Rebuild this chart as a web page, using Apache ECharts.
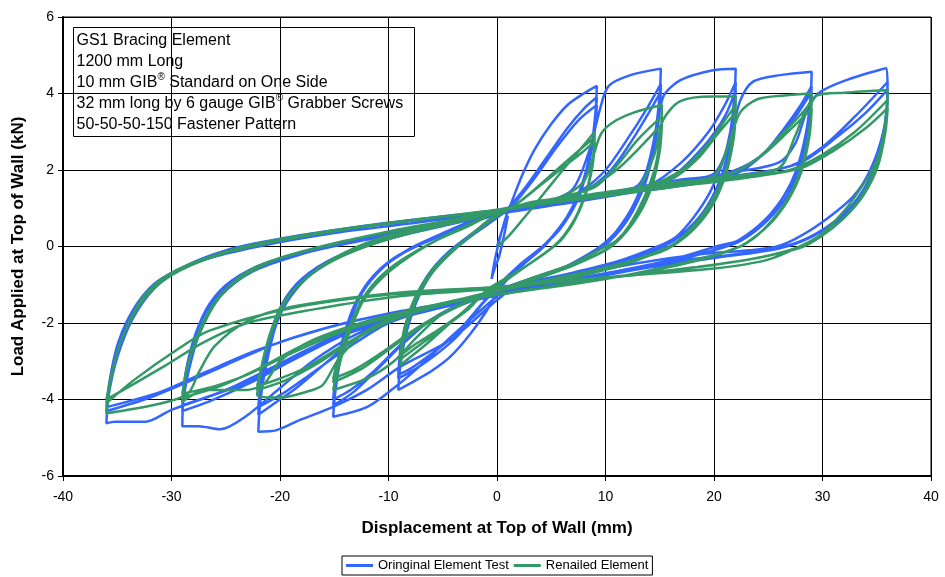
<!DOCTYPE html>
<html>
<head>
<meta charset="utf-8">
<script src="https://cdn.jsdelivr.net/npm/echarts@6/dist/echarts.min.js"></script>
<style>
  html, body { margin: 0; padding: 0; background: #fff; }
  #chart { width: 945px; height: 577px; }
</style>
</head>
<body>
<div id="chart"></div>
<script>
// Hysteresis record: displacement (mm) vs load (kN), cycles at +/-9, 15, 22, 29, 36 mm.
const xTicks = [-40, -30, -20, -10, 0, 10, 20, 30, 40];
const yTicks = [-6, -4, -2, 0, 2, 4, 6];

const seriesNames = ['Oringinal Element Test', 'Renailed Element'];

// Original element test
const origStart = [[0,0],[0.5,0.45],[1.0,0.8],[0.7,0.35],[0.2,-0.25],[-0.3,-0.65],[-0.5,-0.85],[-0.2,-0.35],[0.3,0.25]];
const orig09 = [
  [0.8,0.75],[1.4,1.2],[2.3,1.85],[3.5,2.55],[5,3.2],[6.5,3.7],[8,4.0],[9.2,4.2],
  [9.1,3.6],[8.7,2.6],[7.8,1.6],[6.5,0.8],[5.2,0.3],[4.2,0],[2.5,-0.45],[1,-0.85],[0,-1.2],[-1,-1.7],[-2.5,-2.3],[-4.3,-2.88],[-6,-3.25],[-7.5,-3.5],[-9.1,-3.75],
  [-8.9,-3.1],[-8.3,-2.2],[-7.2,-1.3],[-5.8,-0.6],[-4,-0.1],[-2,0.35],[0,0.75],[1,1.0],[2.5,1.5],[4.5,2.3],[6.5,3.1],[8,3.6],[9.2,3.9],
  [9.0,3.2],[8.5,2.3],[7.6,1.4],[6.3,0.7],[4.5,0.05],[2.5,-0.45],[0.5,-0.95],[-1.5,-1.55],[-3.5,-2.3],[-5.5,-2.8],[-7.5,-3.2],[-9.1,-3.45],
  [-8.8,-2.6],[-8,-1.8],[-6.8,-1.0],[-5,-0.35],[-2.5,0.3],[0,0.75],[1.5,1.1],[3.5,1.8],[5.5,2.6],[7.5,3.3],[9.2,3.7],
  [9.0,3.0],[8.4,2.1],[7.4,1.2],[5.8,0.45],[4.2,0],[2,-0.5],[0,-1.05],[-2,-1.7],[-4,-2.35],[-6,-2.8],[-8,-3.2],[-9.1,-3.35],
  [-8.8,-2.5],[-7.9,-1.6],[-6.5,-0.8],[-4.5,-0.15],[-2,0.4],[0,0.8],[2.5,1.05],[5,1.2],[7,1.5]
];
const orig15 = [
  [8.5,2.5],[9.5,3.6],[10.3,4.2],[12.3,4.48],[15.1,4.65],
  [15.0,4.0],[14.6,3.0],[13.8,2.0],[12.6,1.1],[11,0.4],[9.5,0],[7,-0.45],[4,-0.8],[1,-1.1],[0,-1.3],[-4,-2.3],[-7.4,-3.2],[-9.5,-3.7],[-12,-4.2],[-15.1,-4.45],
  [-14.9,-3.8],[-14.4,-2.9],[-13.6,-2.0],[-12.4,-1.2],[-10.5,-0.55],[-8,-0.05],[-5,0.35],[-2,0.7],[0,0.85],[3,1.05],[6,1.2],[8,1.5],[10,2.0],[12,2.8],[13.8,3.6],[15.1,4.25],
  [15.0,3.6],[14.5,2.6],[13.6,1.6],[12.2,0.8],[10.5,0.2],[9.3,-0.05],[6.5,-0.5],[3,-0.85],[0,-1.15],[-3,-1.45],[-6,-1.9],[-8.5,-2.5],[-11,-3.2],[-13.2,-3.8],[-15.1,-4.15],
  [-14.8,-3.4],[-14.2,-2.5],[-13.2,-1.6],[-11.8,-0.9],[-9.5,-0.3],[-6,0.2],[-3,0.55],[0,0.85],[4,1.1],[8,1.45],[10.5,2.0],[12.5,2.8],[14,3.5],[15.1,4.05],
  [14.9,3.3],[14.3,2.3],[13.3,1.4],[11.8,0.6],[9.8,0.0],[7,-0.45],[3.5,-0.85],[0,-1.2],[-3.5,-1.55],[-6.5,-2.0],[-9,-2.6],[-11.5,-3.3],[-13.5,-3.75],[-15.1,-4.0],
  [-14.8,-3.2],[-14.1,-2.3],[-13,-1.45],[-11.3,-0.75],[-8.5,-0.15],[-5,0.3],[-1,0.75],[2,0.95],[6,1.15],[10,1.4],[13,1.6]
];
const orig22 = [
  [14.5,2.6],[15.3,3.9],[16.9,4.35],[19.9,4.61],[22,4.65],
  [21.9,4.0],[21.5,3.0],[20.8,2.2],[19.6,1.4],[18.1,0.75],[16.5,0.25],[14.8,0],[11,-0.4],[6,-0.75],[2,-1.0],[0,-1.4],[-4.3,-2.44],[-8.9,-3.14],[-12,-3.75],[-15.1,-4.19],[-18.2,-4.54],[-20.3,-4.8],[-22,-4.84],
  [-21.8,-4.0],[-21.2,-3.0],[-20.3,-2.0],[-19,-1.3],[-17,-0.7],[-14,-0.2],[-10,0.2],[-5,0.55],[0,0.85],[5,1.1],[10,1.35],[14,1.6],[17,2.2],[19.5,3.0],[21,3.7],[22,4.3],
  [21.9,3.6],[21.4,2.6],[20.5,1.7],[19,0.9],[17,0.3],[15.3,0],[11,-0.45],[6,-0.8],[1,-1.1],[-4,-1.45],[-9,-1.85],[-13,-2.4],[-16,-3.1],[-18.5,-3.7],[-20.5,-4.1],[-22,-4.4],
  [-21.8,-3.6],[-21.1,-2.6],[-20,-1.7],[-18.4,-1.0],[-16,-0.45],[-12,0.05],[-6,0.5],[0,0.85],[6,1.15],[12,1.45],[16,1.8],[19,2.6],[21,3.4],[22,4.1],
  [21.8,3.3],[21.2,2.3],[20.2,1.4],[18.6,0.65],[16.5,0.1],[15,-0.1],[10,-0.55],[5,-0.85],[0,-1.15],[-5,-1.55],[-10,-2.0],[-14,-2.7],[-17,-3.3],[-19.5,-3.8],[-22,-4.2],
  [-21.7,-3.4],[-21,-2.4],[-19.8,-1.5],[-18,-0.85],[-15,-0.3],[-10,0.2],[-4,0.6],[0,0.85],[6,1.2],[12,1.5],[17,1.75],[20,1.9]
];
const orig29 = [
  [21.5,2.8],[22.4,3.8],[23.6,4.31],[26.1,4.48],[29,4.57],
  [28.9,3.9],[28.5,3.0],[27.6,2.0],[26.4,1.3],[24.5,0.6],[22.7,0.2],[20.2,0],[16,-0.35],[10,-0.7],[4,-1.0],[-2,-1.35],[-8,-1.75],[-13,-2.3],[-17,-3.0],[-20,-3.7],[-23.2,-4.45],[-25.5,-4.78],[-27.5,-4.7],[-29,-4.7],
  [-28.9,-4.0],[-28.2,-3.0],[-27.2,-2.1],[-25.5,-1.3],[-22.5,-0.65],[-18,-0.2],[-12,0.25],[-6,0.55],[0,0.85],[6,1.15],[12,1.45],[18,1.7],[22,1.9],[24.5,2.4],[26.5,3.1],[28,3.7],[29,4.2],
  [28.8,3.5],[28.2,2.5],[27,1.6],[25.2,0.85],[23,0.3],[21,0.0],[16,-0.4],[10,-0.75],[4,-1.05],[-2,-1.4],[-8,-1.8],[-14,-2.3],[-19,-3.0],[-23,-3.6],[-26.5,-4.05],[-29,-4.3],
  [-28.8,-3.5],[-28,-2.5],[-26.8,-1.7],[-24.8,-1.0],[-21.8,-0.5],[-16,-0.05],[-8,0.4],[0,0.85],[8,1.2],[16,1.6],[21,1.9],[24,2.3],[26.5,3.0],[28,3.6],[29,4.05],
  [28.8,3.3],[28.1,2.3],[26.9,1.4],[25,0.7],[22.5,0.15],[20,-0.1],[14,-0.5],[8,-0.8],[2,-1.15],[-4,-1.5],[-10,-1.9],[-16,-2.5],[-21,-3.2],[-25,-3.75],[-29,-4.15],
  [-28.7,-3.3],[-27.8,-2.3],[-26.5,-1.5],[-24.5,-0.9],[-21,-0.4],[-15,0.05],[-8,0.45],[0,0.85],[8,1.25],[16,1.65],[22,1.95],[26,2.2]
];
const orig36 = [
  [27.5,2.7],[28.5,3.5],[29.6,4.0],[32.2,4.35],[35.9,4.66],
  [36,4.0],[35.6,3.0],[34.4,2.0],[32.8,1.3],[29.8,0.6],[27.5,0.2],[25.8,0],[23.3,-0.1],[18.7,-0.2],[12.6,-0.45],[6.4,-0.8],[0.3,-1.2],[-5,-1.5],[-10,-1.85],[-15,-2.35],[-20,-3.1],[-23.2,-3.58],[-30,-4.27],[-32.4,-4.58],[-35.2,-4.58],[-36,-4.62],
  [-35.8,-3.9],[-35,-2.9],[-33.6,-1.9],[-31.6,-1.1],[-29,-0.55],[-25,-0.1],[-20,0.2],[-12,0.55],[0,0.95],[8,1.25],[16,1.55],[22,1.85],[27,2.1],[30,2.6],[33,3.4],[36,4.3],
  [35.9,3.6],[35.4,2.6],[34.2,1.7],[32.3,0.95],[29.5,0.35],[26.5,0],[22,-0.2],[16,-0.4],[10,-0.7],[4,-1.0],[-2,-1.35],[-8,-1.65],[-14,-2.0],[-20,-2.5],[-25,-3.1],[-29,-3.6],[-32.5,-4.0],[-36,-4.3],
  [-35.7,-3.5],[-34.9,-2.5],[-33.4,-1.6],[-31.2,-0.95],[-28,-0.45],[-24,-0.05],[-18,0.3],[-10,0.6],[0,0.95],[8,1.25],[16,1.55],[23,1.85],[28,2.2],[31.5,2.9],[34,3.5],[36,4.1],
  [35.9,3.4],[35.3,2.4],[34,1.5],[32,0.8],[29,0.25],[26,-0.05],[20,-0.3],[14,-0.55],[8,-0.85],[2,-1.15],[-4,-1.45],[-10,-1.75],[-16,-2.15],[-22,-2.7],[-27,-3.3],[-31,-3.8],[-36,-4.2],
  [-35.6,-3.4],[-34.7,-2.4],[-33.2,-1.5],[-31,-0.85],[-27,-0.35],[-22,0.0],[-15,0.35],[-8,0.6],[0,0.9]
];

// Renailed element
const ren09 = [
  [0,0],[1,0.25],[2.5,0.75],[4.5,1.45],[6.5,2.15],[8,2.65],[9,3.0],
  [8.9,2.4],[8.4,1.6],[7.4,0.85],[6.2,0.3],[5.2,0],[3,-0.45],[1,-0.8],[-1,-1.15],[-2.5,-1.6],[-4.3,-2.0],[-6.5,-2.55],[-8.9,-3.1],
  [-8.6,-2.4],[-7.6,-1.5],[-6,-0.7],[-4,-0.1],[-1.5,0.5],[0,0.8],[1.5,1.05],[3.5,1.5],[5.5,2.0],[7.5,2.5],[9,2.85],
  [8.8,2.2],[8.2,1.4],[7.2,0.7],[6,0.2],[5,-0.05],[3,-0.45],[1,-0.85],[-1,-1.2],[-3,-1.7],[-5,-2.15],[-7,-2.55],[-8.9,-2.95],
  [-8.5,-2.2],[-7.5,-1.35],[-5.8,-0.55],[-3.5,0.05],[-1,0.6],[0,0.8],[2,1.15],[4,1.6],[6,2.05],[7.8,2.45],[9,2.75],
  [8.8,2.1],[8.1,1.3],[7,0.6],[5.8,0.15],[4.8,-0.1],[2.5,-0.55],[0.5,-0.9],[-1.5,-1.3],[-3.5,-1.8],[-5.5,-2.2],[-7.5,-2.55],[-8.9,-2.85],
  [-8.5,-2.1],[-7.4,-1.25],[-5.6,-0.5],[-3,0.15],[0,0.85],[3,1.15],[6,1.3],[8,1.7]
];
const ren15 = [
  [8.8,2.3],[9.6,2.95],[10.7,3.25],[12.6,3.5],[15.2,3.7],
  [15.1,3.0],[14.6,2.1],[13.6,1.3],[12.2,0.55],[11,0.15],[10,0],[7,-0.45],[4,-0.75],[1,-1.05],[-2,-1.35],[-5,-1.75],[-7.5,-2.4],[-9.5,-3.0],[-12,-3.45],[-15.1,-3.75],
  [-14.5,-3.05],[-13.5,-2.18],[-12.3,-1.4],[-10.5,-0.8],[-8,-0.25],[-5,0.25],[-2,0.65],[0,0.9],[3,1.1],[6,1.3],[9,1.55],[11,2.1],[13,2.8],[15.2,3.4],
  [15,2.7],[14.4,1.8],[13.3,1.0],[11.8,0.35],[10.2,-0.05],[7,-0.5],[3.5,-0.85],[0,-1.15],[-3.5,-1.55],[-7,-2.1],[-10,-2.7],[-12.5,-3.2],[-15.1,-3.55],
  [-14.5,-2.8],[-13.4,-1.95],[-12,-1.2],[-10,-0.6],[-7,-0.05],[-3.5,0.45],[0,0.9],[4,1.15],[8,1.45],[11,2.0],[13.2,2.6],[15.2,3.2],
  [15,2.5],[14.3,1.6],[13.1,0.85],[11.5,0.25],[10,-0.1],[6.5,-0.55],[3,-0.9],[-0.5,-1.2],[-4,-1.6],[-7.5,-2.15],[-10.5,-2.75],[-13,-3.2],[-15.1,-3.45],
  [-14.4,-2.7],[-13.2,-1.85],[-11.7,-1.1],[-9.5,-0.5],[-6,0.1],[-2.5,0.55],[0,0.9],[5,1.15],[10,1.35],[13,1.55]
];
const ren22 = [
  [14.5,2.4],[15.3,3.3],[16.9,3.8],[19.9,3.92],[22,3.92],
  [21.9,3.2],[21.4,2.3],[20.4,1.5],[19,0.85],[17.3,0.3],[15.9,0],[12,-0.45],[7,-0.8],[2,-1.05],[-3,-1.35],[-8,-1.7],[-12,-2.2],[-14.5,-2.9],[-16,-3.6],[-17,-3.75],[-20,-3.95],[-22.1,-3.88],
  [-21.6,-3.0],[-20.7,-2.1],[-19.5,-1.4],[-17.5,-0.8],[-15,-0.3],[-11,0.2],[-6,0.55],[0,0.95],[5,1.2],[10,1.4],[14,1.6],[17,2.0],[19.5,2.7],[21,3.3],[22,3.7],
  [21.8,3.0],[21.2,2.1],[20.1,1.3],[18.6,0.65],[16.8,0.15],[15.5,-0.05],[11,-0.5],[6,-0.8],[1,-1.1],[-4,-1.45],[-9,-1.85],[-13,-2.4],[-16.5,-3.05],[-19.5,-3.5],[-22.1,-3.75],
  [-21.5,-2.9],[-20.5,-2.0],[-19.2,-1.3],[-17,-0.7],[-14,-0.2],[-9,0.3],[-3,0.7],[0,0.95],[6,1.2],[12,1.45],[16,1.75],[18.5,2.3],[20.5,3.0],[22,3.5],
  [21.8,2.8],[21.1,1.9],[19.9,1.1],[18.3,0.5],[16.4,0.05],[15,-0.15],[10,-0.55],[5,-0.85],[0,-1.15],[-5,-1.5],[-10,-1.95],[-14,-2.55],[-17.5,-3.15],[-20,-3.45],[-22.1,-3.65],
  [-21.4,-2.8],[-20.3,-1.9],[-18.9,-1.2],[-16.5,-0.6],[-13,-0.1],[-8,0.35],[-2,0.75],[0,0.95],[6,1.25],[12,1.5],[17,1.7],[20,1.85]
];
const ren29 = [
  [21.5,2.8],[22.4,3.5],[24,3.85],[26.5,3.95],[29,4.0],
  [28.9,3.3],[28.4,2.4],[27.3,1.5],[25.8,0.8],[24,0.3],[22.4,0],[18,-0.4],[12,-0.75],[6,-1.0],[0,-1.25],[-6,-1.55],[-12,-1.95],[-17,-2.45],[-20,-3.0],[-21.5,-3.6],[-23.2,-3.75],[-26.9,-3.75],[-29,-4.06],
  [-28.6,-3.2],[-27.4,-2.27],[-26,-1.5],[-24.2,-0.9],[-21.5,-0.45],[-16,0.0],[-9,0.45],[-2,0.8],[0,0.95],[8,1.3],[16,1.6],[21,1.85],[24,2.3],[26.5,3.0],[28,3.45],[29,3.8],
  [28.8,3.1],[28.2,2.2],[27,1.35],[25.4,0.7],[23.6,0.2],[22,-0.05],[17,-0.45],[11,-0.8],[5,-1.05],[-1,-1.3],[-7,-1.6],[-13,-2.05],[-18,-2.6],[-22,-3.2],[-25.5,-3.65],[-29,-3.95],
  [-28.5,-3.1],[-27.3,-2.15],[-25.8,-1.4],[-23.8,-0.85],[-20.5,-0.35],[-14,0.15],[-6,0.6],[0,0.95],[8,1.3],[16,1.6],[21.5,1.9],[24.5,2.4],[27,3.05],[29,3.6],
  [28.8,2.9],[28.1,2.0],[26.8,1.2],[25,0.55],[23,0.1],[21.5,-0.1],[16,-0.5],[10,-0.85],[4,-1.1],[-2,-1.35],[-8,-1.7],[-14,-2.2],[-19,-2.8],[-23,-3.35],[-26,-3.65],[-29,-3.85],
  [-28.4,-3.0],[-27.2,-2.05],[-25.6,-1.3],[-23.5,-0.8],[-20,-0.3],[-13,0.2],[-5,0.65],[0,0.95],[8,1.3],[16,1.6],[22,1.85],[26,2.05]
];
const ren36 = [
  [27.5,2.9],[28.5,3.6],[29.5,3.95],[32,4.02],[36,4.09],
  [35.9,3.5],[35.4,2.6],[34.6,2.0],[33.7,1.6],[32.2,1.0],[29.8,0.3],[27.9,0],[24.9,-0.35],[20.2,-0.57],[12.6,-0.75],[6.4,-0.88],[0.3,-1.05],[-9.6,-1.22],[-18.8,-1.57],[-23,-1.95],[-26,-2.6],[-27.5,-3.3],[-28.5,-3.85],[-30.9,-4.1],[-34,-4.27],[-36,-4.36],
  [-35.6,-3.5],[-34.7,-2.5],[-32.6,-1.31],[-30.1,-0.7],[-26.5,-0.27],[-21.8,0.09],[-12.6,0.52],[1.2,1.0],[8,1.25],[16,1.55],[22,1.8],[27,2.0],[30,2.4],[33,3.0],[36,3.83],
  [35.8,3.2],[35.2,2.3],[34,1.5],[32.3,0.85],[30,0.3],[28,0],[24,-0.3],[18,-0.55],[12,-0.75],[6,-0.9],[0,-1.1],[-9.6,-1.25],[-18.8,-1.6],[-26.5,-2.2],[-29.5,-2.7],[-33.5,-3.5],[-36,-4.1],
  [-35.5,-3.3],[-34.5,-2.35],[-32.5,-1.35],[-30,-0.75],[-26.5,-0.3],[-21.8,0.05],[-12.6,0.5],[0,0.95],[8,1.25],[16,1.55],[23,1.8],[28,2.05],[31,2.5],[34,3.1],[36,3.62],
  [35.8,3.0],[35.1,2.1],[33.8,1.35],[32,0.75],[29.8,0.25],[27.8,-0.05],[23,-0.35],[17,-0.6],[11,-0.8],[5,-0.95],[0,-1.1],[-9,-1.3],[-17,-1.65],[-23,-2.0],[-27,-2.5],[-30.5,-3.1],[-33.5,-3.6],[-36,-4.0],
  [-35.4,-3.2],[-34.7,-2.5],[-32.6,-1.31],[-30.1,-0.7],[-26.5,-0.27],[-21.8,0.09],[-12.6,0.52],[0,0.95]
];

const originalPath = [].concat(origStart, orig09, orig15, orig22, orig29, orig36);
const renailedPath = [].concat(ren09, ren15, ren22, ren29, ren36);

const FONT = '"Liberation Sans", Arial, Helvetica, sans-serif';

const infoLines = [
  'GS1 Bracing Element',
  '1200 mm Long',
  '10 mm GIB{s|®} Standard on One Side',
  '32 mm long by 6 gauge GIB{s|®} Grabber Screws',
  '50-50-50-150 Fastener Pattern'
];

const chart = echarts.init(document.getElementById('chart'), null, { renderer: 'canvas' });

chart.setOption({
  animation: false,
  backgroundColor: '#ffffff',
  textStyle: { fontFamily: FONT },
  grid: {
    left: 63, right: 14, top: 17, bottom: 101,
    show: true, borderColor: '#000', borderWidth: 1, backgroundColor: '#fff'
  },
  xAxis: {
    type: 'value',
    min: xTicks[0], max: xTicks[xTicks.length - 1], interval: 10,
    name: 'Displacement at Top of Wall (mm)',
    nameLocation: 'middle', nameGap: 44,
    nameTextStyle: { fontSize: 17, fontWeight: 'bold', color: '#000', fontFamily: FONT },
    axisLine: { onZero: false, lineStyle: { color: '#000', width: 2 } },
    axisTick: { show: true, length: 5, lineStyle: { color: '#000' } },
    axisLabel: { fontSize: 14, color: '#000', margin: 14, fontFamily: FONT },
    splitLine: { show: true, lineStyle: { color: '#000', width: 1 } }
  },
  yAxis: {
    type: 'value',
    min: yTicks[0], max: yTicks[yTicks.length - 1], interval: 2,
    name: 'Load Applied at Top of Wall (kN)',
    nameLocation: 'middle', nameGap: 36, nameRotate: 90,
    nameTextStyle: { fontSize: 17, fontWeight: 'bold', color: '#000', fontFamily: FONT },
    axisLine: { onZero: false, lineStyle: { color: '#000', width: 2 } },
    axisTick: { show: true, length: 5, lineStyle: { color: '#000' } },
    axisLabel: { fontSize: 14, color: '#000', margin: 9, fontFamily: FONT },
    splitLine: { show: true, lineStyle: { color: '#000', width: 1 } }
  },
  legend: {
    data: seriesNames,
    left: 342, top: 556,
    orient: 'horizontal',
    icon: 'rect', itemWidth: 27, itemHeight: 3, itemGap: 5,
    padding: [3, 4, 3, 4],
    borderColor: '#000', borderWidth: 1, backgroundColor: '#fff',
    textStyle: { fontSize: 13, color: '#000', fontFamily: FONT }
  },
  graphic: [{
    type: 'group', left: 73, top: 27, z: 100,
    children: [
      { type: 'rect', shape: { x: 0, y: 0, width: 341, height: 109 },
        style: { fill: '#fff', stroke: '#000', lineWidth: 1 } },
      { type: 'text', x: 3, y: 3,
        style: {
          text: infoLines.join('\n'),
          font: '16px ' + FONT,
          fill: '#000',
          lineHeight: 21,
          rich: {
            s: { fontSize: 10, verticalAlign: 'top', lineHeight: 12, fill: '#000', fontFamily: FONT }
          }
        } }
    ]
  }],
  series: [
    {
      name: seriesNames[0], type: 'line', data: originalPath,
      showSymbol: false, symbol: 'none', smooth: 0.3,
      color: '#3366FF',
      lineStyle: { color: '#3366FF', width: 2.5 },
      z: 2
    },
    {
      name: seriesNames[1], type: 'line', data: renailedPath,
      showSymbol: false, symbol: 'none', smooth: 0.3,
      color: '#339966',
      lineStyle: { color: '#339966', width: 2.5 },
      z: 3
    }
  ]
});
</script>
</body>
</html>
